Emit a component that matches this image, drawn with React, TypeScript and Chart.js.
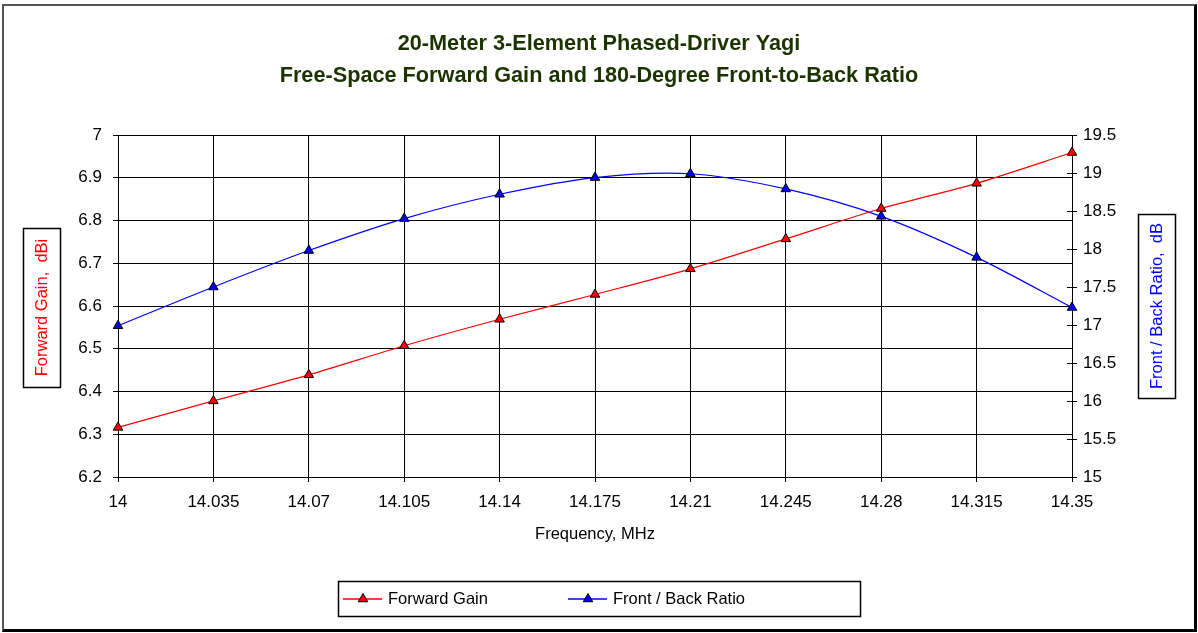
import React, { useEffect, useRef } from 'react';
import { Chart, registerables } from 'chart.js';

Chart.register(...registerables);

const titleLines = [
  '20-Meter 3-Element Phased-Driver Yagi',
  'Free-Space Forward Gain and 180-Degree Front-to-Back Ratio',
];
const frequencies = ['14', '14.035', '14.07', '14.105', '14.14', '14.175', '14.21', '14.245', '14.28', '14.315', '14.35'];
const forwardGain = [6.316, 6.378, 6.439, 6.507, 6.569, 6.627, 6.687, 6.757, 6.828, 6.887, 6.959];
const frontBack = [16.99, 17.5, 17.98, 18.4, 18.72, 18.94, 18.99, 18.79, 18.43, 17.89, 17.23];
const seriesNames = ['Forward Gain', 'Front / Back Ratio'];
const xTitle = 'Frequency, MHz';
const leftTitle = 'Forward Gain,  dBi';
const rightTitle = 'Front / Back Ratio,  dB';

const FONT = "'Liberation Sans', Arial, sans-serif";

function triangle(ctx: CanvasRenderingContext2D, x: number, y: number, r: number, fill: string) {
  ctx.beginPath();
  let rad = 0;
  ctx.moveTo(x + Math.sin(rad) * r, y - Math.cos(rad) * r);
  rad += (2 * Math.PI) / 3;
  ctx.lineTo(x + Math.sin(rad) * r, y - Math.cos(rad) * r);
  rad += (2 * Math.PI) / 3;
  ctx.lineTo(x + Math.sin(rad) * r, y - Math.cos(rad) * r);
  ctx.closePath();
  ctx.fillStyle = fill;
  ctx.fill();
  ctx.lineWidth = 1;
  ctx.strokeStyle = '#000';
  ctx.stroke();
}

const decorPlugin = {
  id: 'decor',
  afterDraw(chart: any) {
    const ctx: CanvasRenderingContext2D = chart.ctx;
    ctx.save();
    // right axis inner tick marks
    const yR = chart.scales.yR;
    ctx.strokeStyle = '#000';
    ctx.lineWidth = 1;
    yR.ticks.forEach((t: any) => {
      const py = Math.round(yR.getPixelForValue(t.value)) + 0.5;
      ctx.beginPath();
      ctx.moveTo(yR.left - 5, py);
      ctx.lineTo(yR.left, py);
      ctx.stroke();
    });

    // axis title boxes
    const boxes = [
      { x: 23, y: 228, w: 37, h: 159, text: leftTitle, color: '#ff0000' },
      { x: 1138, y: 214, w: 37, h: 184, text: rightTitle, color: '#0000ff' },
    ];
    boxes.forEach((b) => {
      ctx.save();
      ctx.fillStyle = '#fff';
      ctx.fillRect(b.x, b.y, b.w, b.h);
      ctx.strokeStyle = '#000';
      ctx.lineWidth = 1.5;
      ctx.strokeRect(b.x + 0.5, b.y + 0.5, b.w, b.h);
      ctx.beginPath();
      ctx.rect(b.x + 1, b.y + 1, b.w - 1, b.h - 1);
      ctx.clip();
      ctx.translate(b.x + b.w / 2 + 1, b.y + b.h / 2);
      ctx.rotate(-Math.PI / 2);
      ctx.font = `16.5px ${FONT}`;
      ctx.fillStyle = b.color;
      ctx.textAlign = 'center';
      ctx.textBaseline = 'middle';
      ctx.fillText(b.text, 0, 0);
      ctx.restore();
    });

    // legend
    const lx = 338, ly = 581, lw = 522, lh = 35;
    ctx.strokeStyle = '#000';
    ctx.lineWidth = 1.5;
    ctx.strokeRect(lx + 0.5, ly + 0.5, lw, lh);
    const cy = ly + lh / 2 + 0.5;
    const itemX = [343, 568];
    chart.data.datasets.forEach((ds: any, i: number) => {
      const x0 = itemX[i];
      ctx.strokeStyle = ds.borderColor;
      ctx.lineWidth = 1.5;
      ctx.beginPath();
      ctx.moveTo(x0, cy);
      ctx.lineTo(x0 + 39, cy);
      ctx.stroke();
      triangle(ctx, x0 + 20, cy, 5.5, ds.pointBackgroundColor);
      ctx.fillStyle = '#000';
      ctx.font = `16.5px ${FONT}`;
      ctx.textAlign = 'left';
      ctx.textBaseline = 'middle';
      ctx.fillText(ds.label, x0 + 45, cy);
    });
    ctx.restore();
  },
};

export default function App() {
  const ref = useRef<HTMLCanvasElement>(null);
  useEffect(() => {
    if (!ref.current) return;
    const chart = new Chart(ref.current, {
      type: 'line',
      data: {
        labels: frequencies,
        datasets: [
          {
            label: seriesNames[0],
            data: forwardGain,
            yAxisID: 'y',
            borderColor: '#ff0000',
            borderWidth: 1.2,
            pointStyle: 'triangle',
            pointRadius: 5.5,
            pointBackgroundColor: '#ff0000',
            pointBorderColor: '#000',
            pointBorderWidth: 1,
            tension: 0.3,
          },
          {
            label: seriesNames[1],
            data: frontBack,
            yAxisID: 'yR',
            borderColor: '#0000ff',
            borderWidth: 1.2,
            pointStyle: 'triangle',
            pointRadius: 5.5,
            pointBackgroundColor: '#0000ff',
            pointBorderColor: '#000',
            pointBorderWidth: 1,
            tension: 0.3,
          },
        ],
      },
      options: {
        animation: false,
        responsive: false,
        maintainAspectRatio: false,
        devicePixelRatio: 1,
        layout: { padding: 0 },
        plugins: {
          legend: { display: false },
          tooltip: { enabled: false },
          title: {
            display: true,
            text: titleLines,
            color: '#1c3300',
            font: { family: FONT, size: 21.7, weight: 'bold', lineHeight: 32 / 21.7 },
            padding: { top: 28, bottom: 43 },
          },
        },
        scales: {
          x: {
            type: 'category',
            offset: false,
            afterFit: (s: any) => { s.height = 156; },
            grid: { color: '#000', lineWidth: 1, offset: false, drawTicks: true, tickLength: 5 },
            border: { color: '#000', width: 1 },
            ticks: { color: '#000', font: { family: FONT, size: 17 }, padding: 10, maxRotation: 0, autoSkip: false },
            title: {
              display: true,
              text: xTitle,
              color: '#000',
              font: { family: FONT, size: 16.5 },
              padding: { top: 0, bottom: 89 },
            },
          },
          y: {
            position: 'left',
            min: 6.2,
            max: 7,
            afterFit: (s: any) => { s.width = 118; },
            grid: { color: '#000', lineWidth: 1, drawTicks: true, tickLength: 5 },
            border: { color: '#000', width: 1 },
            ticks: {
              stepSize: 0.1,
              color: '#000',
              font: { family: FONT, size: 17 },
              padding: 11,
              callback: (v: any) => String(Number(Number(v).toFixed(1))),
            },
          },
          yR: {
            position: 'right',
            min: 15,
            max: 19.5,
            afterFit: (s: any) => { s.width = 126; },
            grid: { drawOnChartArea: false, color: '#000', lineWidth: 1, drawTicks: true, tickLength: 5 },
            border: { color: '#000', width: 1 },
            ticks: {
              stepSize: 0.5,
              color: '#000',
              font: { family: FONT, size: 17 },
              padding: 6,
              callback: (v: any) => String(Number(Number(v).toFixed(1))),
            },
          },
        },
      },
      plugins: [decorPlugin],
    } as any);
    return () => chart.destroy();
  }, []);

  return (
    <div style={{ position: 'absolute', left: 0, top: 0, width: 1198, height: 633, background: '#fff' }}>
      <div
        style={{
          position: 'absolute',
          left: 2,
          top: 4,
          width: 1190,
          height: 623,
          borderLeft: '2px solid #555',
          borderTop: '2px solid #555',
          borderRight: '3px solid #000',
          borderBottom: '3px solid #000',
        }}
      />
      <canvas ref={ref} width={1198} height={633} style={{ position: 'absolute', left: 0, top: 0, width: 1198, height: 633 }} />
    </div>
  );
}
